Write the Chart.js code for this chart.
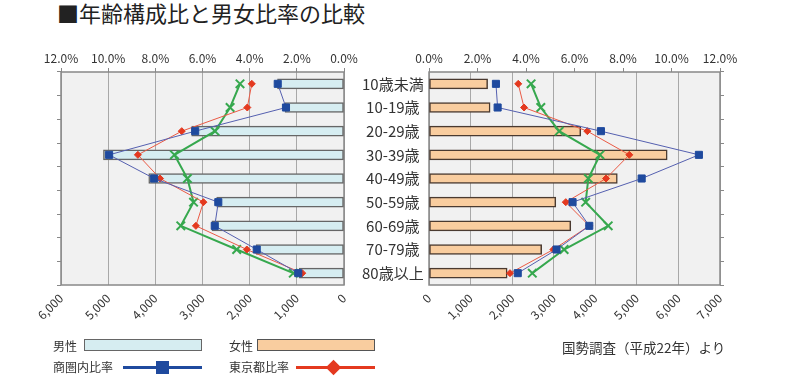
<!DOCTYPE html>
<html>
<head>
<meta charset="utf-8">
<script src="https://cdn.jsdelivr.net/npm/chart.js@4/dist/chart.umd.min.js"></script>
<style>
  body { margin: 0; background: #fff; font-family: "Noto Sans CJK JP", sans-serif; color: #333; }
  #wrap { position: relative; width: 800px; height: 376px; overflow: hidden; }
  canvas { position: absolute; }
  .txt { position: absolute; line-height: 1; white-space: nowrap; }
  .box { position: absolute; box-sizing: border-box; }
</style>
</head>
<body>
<div id="wrap">
  <div class="txt" style="left:57px; top:1px; font-size:22px; color:#222;">■年齢構成比と男女比率の比較</div>
  <canvas id="maleChart" width="430" height="300" style="left:0; top:40px;"></canvas>
  <canvas id="femaleChart" width="400" height="300" style="left:400px; top:40px;"></canvas>

  <!-- legend -->
  <div class="txt" style="left:53px; top:340px; font-size:12px;">男性</div>
  <div class="box" style="left:84px; top:339px; width:118px; height:12px; background:#d6edf1; border:1px solid #666;"></div>
  <div class="txt" style="left:229px; top:340px; font-size:12px;">女性</div>
  <div class="box" style="left:257px; top:339px; width:118px; height:12px; background:#f9cd9f; border:1px solid #555;"></div>

  <div class="txt" style="left:53px; top:361px; font-size:12px;">商圏内比率</div>
  <div class="box" style="left:123px; top:366px; width:79px; height:3px; background:#1f4a9e;"></div>
  <div class="box" style="left:156px; top:361px; width:13px; height:13px; background:#1f4a9e;"></div>
  <div class="txt" style="left:229px; top:361px; font-size:12px;">東京都比率</div>
  <div class="box" style="left:296px; top:366px; width:79px; height:3px; background:#e4391f;"></div>
  <div class="box" style="left:328px; top:362px; width:11px; height:11px; background:#e4391f; transform:rotate(45deg);"></div>

  <div class="txt" style="left:562px; top:341px; font-size:13.5px; color:#333;">国勢調査（平成22年）より</div>
</div>
<script>
// data
var ageLabels = ['10歳未満', '10-19歳', '20-29歳', '30-39歳', '40-49歳', '50-59歳', '60-69歳', '70-79歳', '80歳以上'];
var malePop = [1410, 1250, 3230, 5100, 4140, 2700, 2800, 1860, 950];
var femalePop = [1410, 1470, 3650, 5730, 4530, 3050, 3410, 2710, 1880];
var maleAreaRate = [2.81, 2.46, 6.31, 9.96, 8.05, 5.33, 5.48, 3.70, 1.94];
var maleTokyoRate = [3.91, 4.10, 6.88, 8.74, 7.80, 5.96, 6.28, 4.12, 1.77];
var maleNationRate = [4.41, 4.83, 5.47, 7.19, 6.64, 6.38, 6.92, 4.55, 2.15];
var femaleAreaRate = [2.76, 2.83, 7.09, 11.13, 8.77, 5.92, 6.61, 5.26, 3.66];
var femaleTokyoRate = [3.68, 3.92, 6.53, 8.26, 7.30, 5.64, 6.61, 5.13, 3.34];
var femaleNationRate = [4.21, 4.61, 5.37, 7.05, 6.57, 6.46, 7.39, 5.57, 4.26];

var tickFont = { family: '"Noto Sans CJK JP", sans-serif', size: 12 };
var pctLabel = function (v) { return v.toFixed(1) + '%'; };
var numLabel = function (v) { return v.toLocaleString('en-US'); };

// gray plot area with a frame
var plotFrame = {
  id: 'plotFrame',
  beforeDraw: function (chart) {
    var a = chart.chartArea, ctx = chart.ctx;
    ctx.save();
    ctx.fillStyle = '#f1f1f1';
    ctx.fillRect(a.left, a.top, a.width, a.height);
    ctx.restore();
  },
  beforeDatasetsDraw: function (chart) {
    var a = chart.chartArea, ctx = chart.ctx;
    ctx.save();
    ctx.strokeStyle = '#888';
    ctx.lineWidth = 1.5;
    ctx.strokeRect(a.left, a.top, a.width, a.height);
    ctx.restore();
  }
};

Chart.defaults.color = '#333';
Chart.defaults.font.family = '"Noto Sans CJK JP", sans-serif';

// male chart (left)
var mctx = document.getElementById('maleChart').getContext('2d');
var maleChart = new Chart(mctx, {
  type: 'bar',
  plugins: [plotFrame],
  data: {
    labels: ageLabels,
    datasets: [{
      type: 'line',
      label: '商圏内比率',
      data: maleAreaRate,
      xAxisID: 'x2',
      yAxisID: 'y',
      borderColor: '#5560b0',
      borderWidth: 1,
      pointStyle: 'rect',
      pointRadius: 5,
      pointBackgroundColor: '#1f4a9e',
      pointBorderColor: '#1f4a9e',
      order: 0
    }, {
      type: 'line',
      label: '東京都比率',
      data: maleTokyoRate,
      xAxisID: 'x2',
      yAxisID: 'y',
      borderColor: '#ea5a45',
      borderWidth: 1,
      pointStyle: 'rectRot',
      pointRadius: 3.5,
      pointBackgroundColor: '#e4391f',
      pointBorderColor: '#e4391f',
      order: 1
    }, {
      type: 'line',
      label: '全国比率',
      data: maleNationRate,
      xAxisID: 'x2',
      yAxisID: 'y',
      borderColor: '#36a84e',
      borderWidth: 2,
      pointStyle: 'crossRot',
      pointRadius: 6,
      pointBorderWidth: 2,
      pointBorderColor: '#36a84e',
      order: 2
    }, {
      label: '男性',
      data: malePop,
      xAxisID: 'x',
      yAxisID: 'y',
      backgroundColor: '#d6edf1',
      borderColor: '#666',
      borderWidth: 1.5,
      borderSkipped: false,
      barThickness: 10,
      order: 3
    }]
  },
  options: {
    responsive: false,
    animation: false,
    indexAxis: 'y',
    layout: { padding: 0 },
    plugins: {
      legend: { display: false },
      tooltip: { enabled: false }
    },
    scales: {
      x: {
        type: 'linear',
        position: 'bottom',
        min: 0,
        max: 6000,
        reverse: true,
        grid: { color: '#a8a8a8', drawTicks: false },
        border: { display: false },
        ticks: { stepSize: 1000, minRotation: 45, maxRotation: 45, padding: 6, font: tickFont, callback: numLabel },
        afterFit: function (s) { s.height = 55; }
      },
      x2: {
        type: 'linear',
        axis: 'x',
        position: 'top',
        min: 0,
        max: 12,
        reverse: true,
        grid: { drawOnChartArea: false, tickLength: 4, color: '#888' },
        border: { display: false },
        ticks: { stepSize: 2, padding: 2, font: tickFont, callback: pctLabel },
        afterFit: function (s) { s.height = 32; }
      },
      y: {
        type: 'category',
        position: 'right',
        grid: { display: false },
        border: { display: false },
        ticks: { crossAlign: 'center', padding: 10, font: { size: 15 }, color: '#333' },
        afterFit: function (s) { s.width = 86; }
      },
      y2: {
        type: 'category',
        axis: 'y',
        position: 'left',
        offset: true,
        grid: { offset: true, drawOnChartArea: false, tickLength: 4, color: '#888' },
        border: { display: false },
        ticks: { display: false },
        afterFit: function (s) { s.width = 61; }
      }
    }
  }
});

// female chart (right)
var fctx = document.getElementById('femaleChart').getContext('2d');
var femaleChart = new Chart(fctx, {
  type: 'bar',
  plugins: [plotFrame],
  data: {
    labels: ageLabels,
    datasets: [{
      type: 'line',
      label: '商圏内比率',
      data: femaleAreaRate,
      xAxisID: 'x2',
      yAxisID: 'y',
      borderColor: '#5560b0',
      borderWidth: 1,
      pointStyle: 'rect',
      pointRadius: 5,
      pointBackgroundColor: '#1f4a9e',
      pointBorderColor: '#1f4a9e',
      order: 0
    }, {
      type: 'line',
      label: '東京都比率',
      data: femaleTokyoRate,
      xAxisID: 'x2',
      yAxisID: 'y',
      borderColor: '#ea5a45',
      borderWidth: 1,
      pointStyle: 'rectRot',
      pointRadius: 3.5,
      pointBackgroundColor: '#e4391f',
      pointBorderColor: '#e4391f',
      order: 1
    }, {
      type: 'line',
      label: '全国比率',
      data: femaleNationRate,
      xAxisID: 'x2',
      yAxisID: 'y',
      borderColor: '#36a84e',
      borderWidth: 2,
      pointStyle: 'crossRot',
      pointRadius: 6,
      pointBorderWidth: 2,
      pointBorderColor: '#36a84e',
      order: 2
    }, {
      label: '女性',
      data: femalePop,
      xAxisID: 'x',
      yAxisID: 'y',
      backgroundColor: '#f9cd9f',
      borderColor: '#4a3a30',
      borderWidth: 1.5,
      borderSkipped: false,
      barThickness: 10,
      order: 3
    }]
  },
  options: {
    responsive: false,
    animation: false,
    indexAxis: 'y',
    layout: { padding: { left: 29, right: 0, top: 0, bottom: 0 } },
    plugins: {
      legend: { display: false },
      tooltip: { enabled: false }
    },
    scales: {
      x: {
        type: 'linear',
        position: 'bottom',
        min: 0,
        max: 7000,
        grid: { color: '#a8a8a8', drawTicks: false },
        border: { display: false },
        ticks: { stepSize: 1000, minRotation: 45, maxRotation: 45, padding: 6, font: tickFont, callback: numLabel },
        afterFit: function (s) { s.height = 55; }
      },
      x2: {
        type: 'linear',
        axis: 'x',
        position: 'top',
        min: 0,
        max: 12,
        grid: { drawOnChartArea: false, tickLength: 4, color: '#888' },
        border: { display: false },
        ticks: { stepSize: 2, padding: 2, font: tickFont, callback: pctLabel },
        afterFit: function (s) { s.height = 32; }
      },
      y: {
        type: 'category',
        display: false
      },
      y2: {
        type: 'category',
        axis: 'y',
        position: 'right',
        offset: true,
        grid: { offset: true, drawOnChartArea: false, tickLength: 4, color: '#888' },
        border: { display: false },
        ticks: { display: false },
        afterFit: function (s) { s.width = 80; }
      }
    }
  }
});
</script>
</body>
</html>
